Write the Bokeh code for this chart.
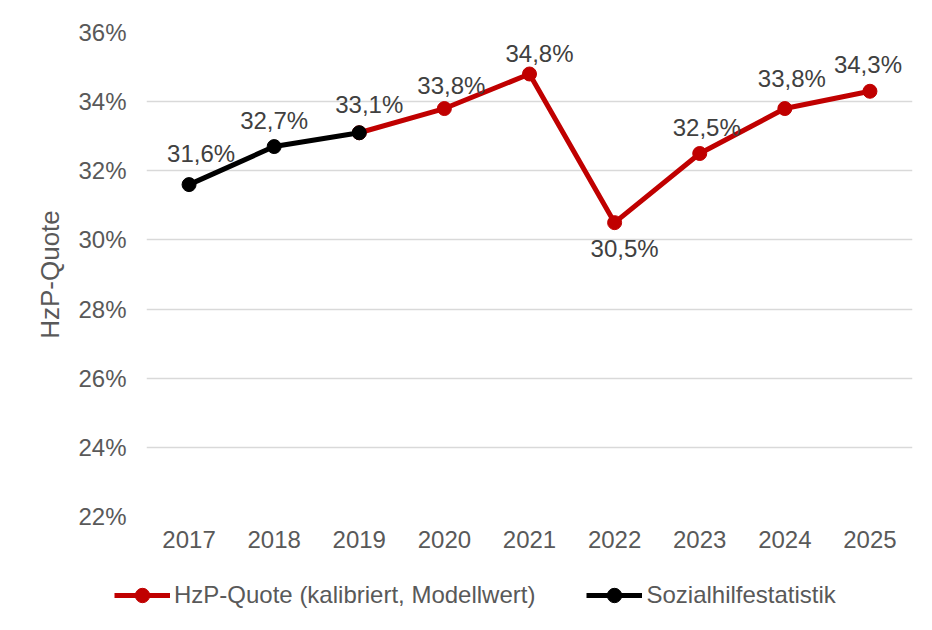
from bokeh.plotting import figure
from bokeh.models import (ColumnDataSource, FactorRange, Range1d, FixedTicker,
                          Legend, LegendItem)
from bokeh.core.properties import value
from bokeh.embed import file_html
from bokeh.resources import INLINE

# ---- data ----
years = ["2017", "2018", "2019", "2020", "2021", "2022", "2023", "2024", "2025"]
quote_all = [31.6, 32.7, 33.1, 33.8, 34.8, 30.5, 32.5, 33.8, 34.3]
model_years = ["2019", "2020", "2021", "2022", "2023", "2024", "2025"]
model_vals = [33.1, 33.8, 34.8, 30.5, 32.5, 33.8, 34.3]
stat_years = ["2017", "2018", "2019"]
stat_vals = [31.6, 32.7, 33.1]
y_ticks = [22, 24, 26, 28, 30, 32, 34, 36]
series_names = ["HzP-Quote (kalibriert, Modellwert)", "Sozialhilfestatistik"]

# label placement (screen px, style only)
lab_dx = [12, 0, 10, 7, 10, 10, 7, 7, -2]
lab_dy = [-31, -26, -28, -23, -20, 26, -26, -30, -27]

FONT = "Liberation Sans"
RED = "#C00000"
BLACK = "#000000"
GREY = "#595959"

p = figure(width=932, height=560, output_backend="svg", toolbar_location=None,
           x_range=FactorRange(*years, range_padding=0), y_range=Range1d(22, 36),
           min_border_left=146, min_border_right=20, min_border_top=32,
           min_border_bottom=44)
p.outline_line_color = None
p.background_fill_color = "white"
p.border_fill_color = "white"

p.xgrid.grid_line_color = None
p.ygrid.grid_line_color = "#D9D9D9"
p.ygrid.grid_line_width = 1.5

for ax in (p.xaxis, p.yaxis):
    ax.axis_line_color = None
    ax.major_tick_line_color = None
    ax.minor_tick_line_color = None
    ax.major_tick_out = 0
    ax.major_tick_in = 0
    ax.major_label_text_font = FONT
    ax.major_label_text_font_size = "24px"
    ax.major_label_text_color = GREY

p.xaxis.major_label_standoff = 14
p.yaxis.major_label_standoff = 20
p.yaxis.ticker = FixedTicker(ticks=y_ticks)
p.yaxis.major_label_overrides = {t: f"{t}%" for t in y_ticks}
p.yaxis.axis_label = "HzP-Quote"
p.yaxis.axis_label_text_font = FONT
p.yaxis.axis_label_text_font_size = "26px"
p.yaxis.axis_label_text_font_style = "normal"
p.yaxis.axis_label_text_color = GREY
p.yaxis.axis_label_standoff = 10

src_m = ColumnDataSource(dict(x=model_years, y=model_vals))
src_s = ColumnDataSource(dict(x=stat_years, y=stat_vals))

p.line("x", "y", source=src_m, line_color=RED, line_width=5)
p.scatter("x", "y", source=src_m, size=14, fill_color=RED, line_color=RED)
p.line("x", "y", source=src_s, line_color=BLACK, line_width=5)
p.scatter("x", "y", source=src_s, size=14, fill_color=BLACK, line_color=BLACK)

labels = [f"{v:.1f}".replace(".", ",") + "%" for v in quote_all]
src_l = ColumnDataSource(dict(x=years, y=quote_all, t=labels, dx=lab_dx, dy=lab_dy))
p.text("x", "y", text="t", source=src_l, x_offset="dx", y_offset="dy",
       text_align="center", text_baseline="middle",
       text_font=value(FONT), text_font_size="24px", text_color="#404040")

# ---- legend strip below the chart (series drawn out of view; only legend shows) ----
q = figure(width=932, height=70, output_backend="svg", toolbar_location=None,
           x_range=FactorRange(*years, range_padding=0), y_range=Range1d(0, 1),
           min_border_left=0, min_border_right=0, min_border_top=0,
           min_border_bottom=0)
q.axis.visible = False
q.grid.visible = False
q.outline_line_color = None
q.border_fill_color = "white"
q.background_fill_color = "white"

items = []
for name, col, src in zip(series_names, [RED, BLACK], [src_m, src_s]):
    ln = q.line("x", "y", source=src, line_color=col, line_width=5)
    sc = q.scatter("x", "y", source=src, size=14, fill_color=col, line_color=col)
    items.append(LegendItem(label=name, renderers=[ln, sc]))

legend = Legend(items=items, location=(114, 17), orientation="horizontal",
                border_line_color=None, background_fill_alpha=0,
                padding=0, margin=0, spacing=51, glyph_width=56, glyph_height=36,
                label_standoff=4, label_text_font=FONT, label_text_font_size="24px",
                label_text_color=GREY)
q.add_layout(legend, "center")

open("out.html", "w").write(file_html([p, q], INLINE))
